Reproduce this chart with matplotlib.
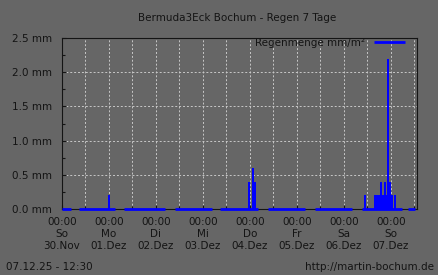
import numpy as np
import matplotlib
matplotlib.use('Agg')
import matplotlib.pyplot as plt
from matplotlib.ticker import MultipleLocator

# hours since So 30.Nov 00:00
seg_start = [0.0, 8.7, 31.7, 57.7, 80.7, 105.2, 129.2, 153.0, 176.7]
seg_end = [4.4, 27.1, 52.6, 76.6, 99.9, 124.1, 148.1, 173.4, 180.2]

rain_hour = [24.1, 95.3, 97.4, 98.4,
             154.7, 159.8, 160.9, 161.9, 162.9, 163.9, 164.9, 165.7,
             166.5, 167.5, 168.4, 170.0]
rain_mm = [0.2, 0.4, 0.6, 0.4,
           0.2, 0.2, 0.2, 0.2, 0.4, 0.2, 0.4, 0.2,
           2.2, 0.4, 0.2, 0.2]

day_labels = ['00:00\nSo\n30.Nov', '00:00\nMo\n01.Dez', '00:00\nDi\n02.Dez',
              '00:00\nMi\n03.Dez', '00:00\nDo\n04.Dez', '00:00\nFr\n05.Dez',
              '00:00\nSa\n06.Dez', '00:00\nSo\n07.Dez']
y_labels = ['0.0 mm', '0.5 mm', '1.0 mm', '1.5 mm', '2.0 mm', '2.5 mm']

bg = '#666666'
ink = '#141414'
blue = '#0000ff'
fs = 7.5

plt.rcParams['font.family'] = 'DejaVu Sans'

fig = plt.figure(figsize=(4.38, 2.75), dpi=100, facecolor=bg)
ax = fig.add_axes([62/438, 1-209/275, 355/438, 171/275], facecolor=bg)

ax.bar(rain_hour, rain_mm, width=1.0, color=blue, linewidth=0, zorder=3)
ax.hlines([0]*len(seg_start), seg_start, seg_end, colors=blue, linewidth=2,
          zorder=4, clip_on=False, label='Regenmenge mm/m\u00b2')

ax.set_xlim(0, 181.3)
ax.set_ylim(0, 2.5)

ax.set_xticks(np.arange(0, 24*len(day_labels), 24))
ax.set_xticklabels(day_labels, fontsize=fs, color=ink, linespacing=1.25)
ax.xaxis.set_minor_locator(MultipleLocator(12))
ax.set_yticks(np.arange(0, 2.51, 0.5))
ax.set_yticklabels(y_labels, fontsize=fs, color=ink)
ax.yaxis.set_minor_locator(MultipleLocator(0.25))

ax.tick_params(axis='both', which='major', direction='in', length=3,
               width=0.8, color=ink, pad=6)
ax.tick_params(axis='both', which='minor', direction='in', length=2,
               width=0.8, color=ink)
ax.tick_params(axis='y', which='major', pad=7)

ax.grid(True, which='both', axis='x', color='#c8c8c8', linestyle=(0, (2, 2)),
        linewidth=0.7)
ax.grid(True, which='major', axis='y', color='#c8c8c8', linestyle=(0, (2, 2)),
        linewidth=0.7)
ax.set_axisbelow(True)

for s in ax.spines.values():
    s.set_color(ink)
    s.set_linewidth(0.8)

leg = ax.legend(loc='upper right', bbox_to_anchor=(0.965, 1.0), frameon=False,
                markerfirst=False, fontsize=fs, handlelength=2.9,
                handletextpad=0.9, borderpad=0, borderaxespad=0)
for t in leg.get_texts():
    t.set_color(ink)

fig.text(237/438, 1-18/275, 'Bermuda3Eck Bochum - Regen 7 Tage', ha='center',
         va='center', fontsize=fs, color=ink)
fig.text(6/438, 1-267/275, '07.12.25 - 12:30', ha='left', va='center',
         fontsize=fs, color=ink)
fig.text(434/438, 1-267/275, 'http://martin-bochum.de', ha='right',
         va='center', fontsize=fs, color=ink)

fig.savefig('out.png', dpi=100, facecolor=bg)
